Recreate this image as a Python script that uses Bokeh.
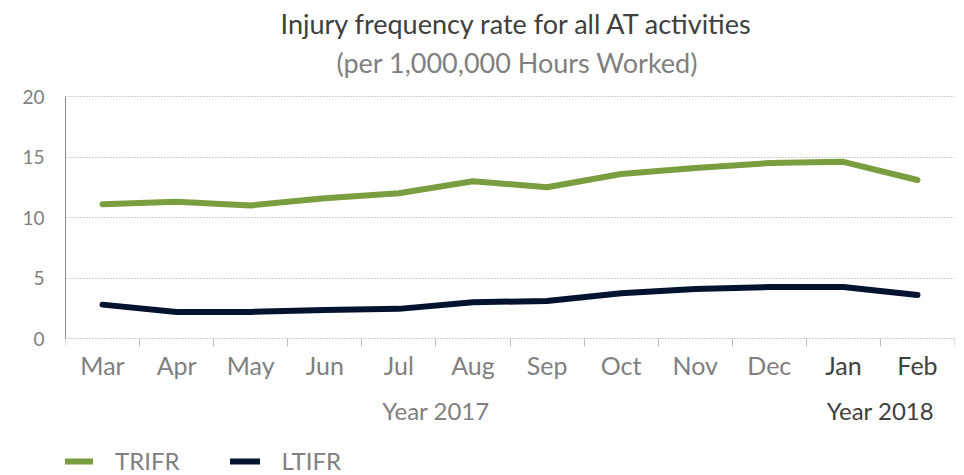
from bokeh.plotting import figure
from bokeh.models import (Range1d, FixedTicker, ColumnDataSource, Legend, LegendItem,
                          LinearAxis)
from bokeh.core.properties import value
from bokeh.embed import file_html
from bokeh.resources import INLINE

months = ["Mar", "Apr", "May", "Jun", "Jul", "Aug", "Sep", "Oct", "Nov", "Dec", "Jan", "Feb"]
month_colors = ["#808080"] * 10 + ["#404040", "#404040"]
trifr = [11.1, 11.3, 11.0, 11.6, 12.0, 13.0, 12.5, 13.6, 14.1, 14.5, 14.6, 13.1]
ltifr = [2.8, 2.2, 2.2, 2.35, 2.45, 3.0, 3.1, 3.75, 4.1, 4.25, 4.25, 3.6]
years = ["Year 2017", "Year 2018"]
year_colors = ["#808080", "#404040"]
year_pos = [5.0, 11.0]
y_ticks = [0, 5, 10, 15, 20]
titles = ["Injury frequency rate for all AT activities", "(per 1,000,000 Hours Worked)"]
title_colors = ["#404040", "#808080"]
title_y = [26.05, 22.85]

FONT = "Lato"
GREEN = "#7a9d3f"
NAVY = "#03132f"

xs = [i + 0.5 for i in range(len(months))]

p = figure(width=964, height=475, output_backend="svg", toolbar_location=None,
           x_range=Range1d(0, len(months)), y_range=Range1d(-11.32, 27.934),
           min_border_left=65, min_border_right=10, min_border_top=0,
           min_border_bottom=0)
p.outline_line_color = None
p.background_fill_color = "white"
p.xaxis.visible = False

# x axis placed at y=0 inside the frame: boundary ticks only
xax = LinearAxis(ticker=FixedTicker(ticks=[], minor_ticks=list(range(len(months) + 1))),
                 fixed_location=0, axis_line_color=None, major_tick_line_color=None,
                 minor_tick_line_color="#bdbdbd", minor_tick_out=8, minor_tick_in=0,
                 major_label_text_font_size="0px")
p.add_layout(xax, "below")

r1 = p.line(xs, trifr, line_color=GREEN, line_width=6, line_cap="round", line_join="round")
r2 = p.line(xs, ltifr, line_color=NAVY, line_width=6, line_cap="round", line_join="round")

# y axis
p.yaxis.ticker = FixedTicker(ticks=y_ticks)
p.yaxis.bounds = (0, 20)
p.yaxis.axis_line_color = "#8c8c8c"
p.yaxis.major_tick_line_color = None
p.yaxis.minor_tick_line_color = None
p.yaxis.major_label_text_font = FONT
p.yaxis.major_label_text_font_size = "19px"
p.yaxis.major_label_text_color = "#808080"
p.yaxis.major_label_standoff = 15

p.ygrid.ticker = FixedTicker(ticks=y_ticks)
p.ygrid.grid_line_color = "#9a9a9a"
p.ygrid.grid_line_dash = "1 2"
p.ygrid.grid_line_width = 1
p.xgrid.grid_line_color = None

# titles
tsrc = ColumnDataSource(dict(x=[6.1, 6.1], y=title_y, text=titles, color=title_colors))
p.text(x="x", y="y", text="text", source=tsrc, text_color="color",
       text_font=value(FONT), text_font_size="27px", text_align="center",
       text_baseline="middle")

# month labels
src = ColumnDataSource(dict(x=xs, y=[-2.2] * len(months), text=months, color=month_colors))
p.text(x="x", y="y", text="text", source=src, text_color="color",
       text_font=value(FONT), text_font_size="25px", text_align="center",
       text_baseline="middle")

# year labels
ysrc = ColumnDataSource(dict(x=year_pos, y=[-5.95] * 2, text=years, color=year_colors))
p.text(x="x", y="y", text="text", source=ysrc, text_color="color",
       text_font=value(FONT), text_font_size="24px", text_align="center",
       text_baseline="middle")

legend = Legend(items=[LegendItem(label="TRIFR", renderers=[r1]),
                       LegendItem(label="LTIFR", renderers=[r2])],
                orientation="horizontal", location=(-2, 0),
                label_text_font=FONT, label_text_font_size="24px",
                label_text_color="#808080", glyph_width=30, glyph_height=20,
                label_standoff=22, spacing=50, padding=0, margin=0,
                border_line_color=None, background_fill_alpha=0)
p.add_layout(legend, "center")

open("out.html", "w").write(file_html(p, INLINE))
